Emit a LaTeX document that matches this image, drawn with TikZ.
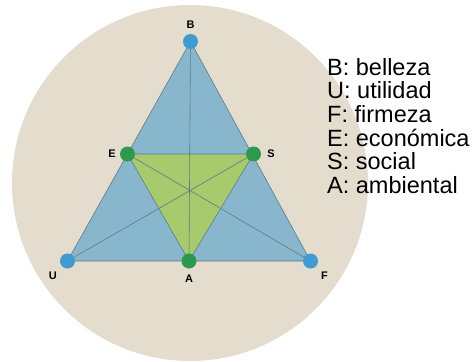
\documentclass[tikz,border=0pt]{standalone}
\usepackage{fontspec}
\setmainfont{Liberation Sans}
\usepackage{tikz}
\usetikzlibrary{positioning}
\definecolor{bgcirc}{HTML}{E4DCCC}
\definecolor{triblue}{HTML}{88B6CD}
\definecolor{trigreen}{HTML}{A7CA6C}
\definecolor{dotblue}{HTML}{3F9BD2}
\definecolor{dotgreen}{HTML}{2C9A4A}
\definecolor{edgegrey}{HTML}{5C7C8A}

\begin{document}
\begin{tikzpicture}[x=1pt, y=-1pt,
  bdot/.style={circle, fill=dotblue, inner sep=0pt, minimum size=15pt},
  gdot/.style={circle, fill=dotgreen, inner sep=0pt, minimum size=15pt},
  lbl/.style={font=\fontsize{11}{13}\selectfont\bfseries, inner sep=0pt},
  edge/.style={draw=edgegrey, line width=0.6pt}
]
\useasboundingbox (0,0) rectangle (475,362);
% background disc
\fill[bgcirc] (190,183) circle (178pt);
% corners of the outer triangle and middle points
\coordinate (B) at (190.5,41.5);
\coordinate (U) at (67.5,261);
\coordinate (F) at (310.5,261);
\coordinate (E) at (127.5,154);
\coordinate (S) at (253.5,154);
\coordinate (A) at (189,261);
\fill[triblue] (B) -- (U) -- (F) -- cycle;
\fill[trigreen] (E) -- (S) -- (A) -- cycle;
\draw[edge] (B) -- (U) -- (F) -- cycle;
\draw[edge] (E) -- (S) -- (A) -- cycle;
\draw[edge] (B) -- (A);
\draw[edge] (E) -- (F);
\draw[edge] (S) -- (U);
% dots
\node[bdot] (nB) at (B) {};
\node[bdot] (nU) at (U) {};
\node[bdot] (nF) at (F) {};
\node[gdot] (nE) at (E) {};
\node[gdot] (nS) at (S) {};
\node[gdot] (nA) at (A) {};
% letters
\node[lbl, above=5pt of nB] (tB) {B};
\node[lbl, left=4pt of nE] (tE) {E};
\node[lbl, right=6pt of nS] (tS) {S};
\node[lbl, below left=5pt and 5pt of nU] (tU) {U};
\node[lbl, below=6pt of nA] (tA) {A};
\node[lbl, below right=5pt and 5pt of nF] (tF) {F};
% legend
\node[anchor=north west, inner sep=0pt, align=left,
      font=\fontsize{23.5}{23.6}\selectfont] (legend) at (327,58)
  {B: belleza\\U: utilidad\\F: firmeza\\E: económica\\S: social\\A: ambiental};
\end{tikzpicture}
\end{document}
